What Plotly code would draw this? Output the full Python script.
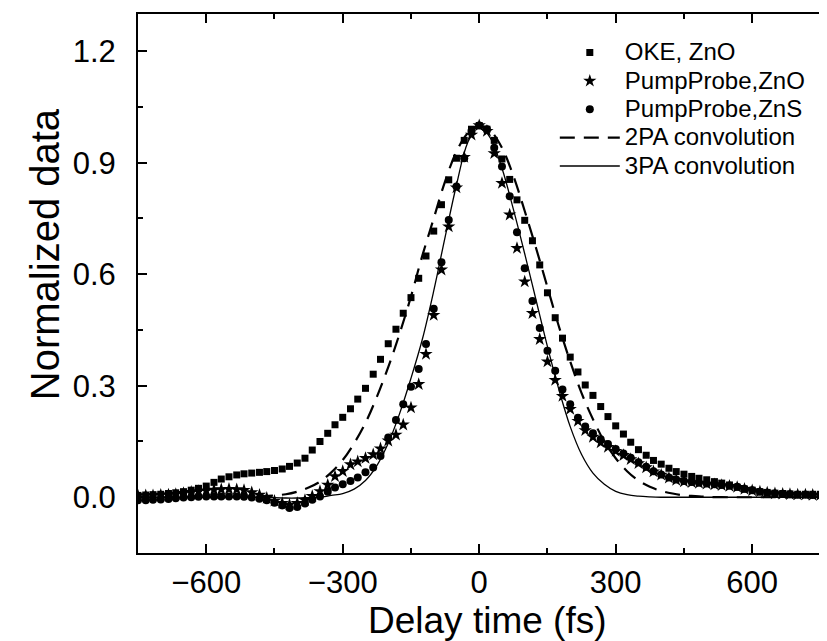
import plotly.graph_objects as go

# shared delay grid of the measured points (fs)
delay_fs = [-750, -733, -717, -700, -683, -667, -650, -633, -617, -600, -583, -567, -550, -533, -517,
            -500, -483, -467, -450, -433, -417, -400, -383, -367, -350, -333, -317, -300, -283, -267,
            -250, -233, -217, -200, -183, -167, -150, -133, -117, -100, -83, -67, -50, -33, -17,
            0, 17, 33, 50, 67, 83, 100, 117, 133, 150, 167, 183, 200, 217, 233,
            250, 267, 283, 300, 317, 333, 350, 367, 383, 400, 417, 433, 450, 467, 483,
            500, 517, 533, 550, 567, 583, 600, 617, 633, 650, 667, 683, 700, 717, 733,
            750, 767, 783]

oke_zno = [0.005, 0.006, 0.007, 0.008, 0.010, 0.012, 0.015, 0.019, 0.024, 0.030, 0.040, 0.049, 0.055, 0.060, 0.063,
           0.065, 0.067, 0.069, 0.072, 0.076, 0.083, 0.092, 0.105, 0.127, 0.150, 0.172, 0.195, 0.215, 0.238, 0.264,
           0.293, 0.331, 0.371, 0.413, 0.452, 0.495, 0.537, 0.589, 0.649, 0.716, 0.787, 0.854, 0.912, 0.960, 0.990,
           1.000, 0.990, 0.960, 0.910, 0.855, 0.800, 0.745, 0.690, 0.625, 0.550, 0.483, 0.428, 0.377, 0.337, 0.302,
           0.274, 0.244, 0.217, 0.192, 0.170, 0.148, 0.128, 0.113, 0.099, 0.089, 0.078, 0.069, 0.062, 0.056, 0.051,
           0.047, 0.042, 0.038, 0.033, 0.027, 0.022, 0.019, 0.015, 0.013, 0.011, 0.010, 0.009, 0.008, 0.008, 0.008,
           0.008, 0.008, 0.008]

pp_zno = [0.004, 0.005, 0.005, 0.006, 0.007, 0.008, 0.011, 0.014, 0.016, 0.018, 0.020, 0.021, 0.022, 0.021, 0.019,
          0.013, 0.006, -0.002, -0.010, -0.016, -0.020, -0.016, -0.008, 0.003, 0.016, 0.033, 0.056, 0.070, 0.088, 0.096,
          0.105, 0.115, 0.131, 0.152, 0.168, 0.195, 0.241, 0.304, 0.385, 0.490, 0.612, 0.728, 0.833, 0.915, 0.975,
          1.000, 0.985, 0.925, 0.845, 0.760, 0.670, 0.580, 0.495, 0.425, 0.365, 0.315, 0.272, 0.237, 0.205, 0.180,
          0.162, 0.147, 0.135, 0.124, 0.113, 0.102, 0.091, 0.080, 0.069, 0.060, 0.052, 0.046, 0.042, 0.040, 0.038,
          0.036, 0.034, 0.032, 0.030, 0.027, 0.022, 0.018, 0.015, 0.012, 0.010, 0.009, 0.008, 0.007, 0.007, 0.006,
          0.006, 0.006, 0.006]

pp_zns = [-0.008, -0.008, -0.007, -0.006, -0.005, -0.003, -0.001, 0.000, 0.001, 0.002, 0.002, 0.002, 0.002, 0.002, 0.001,
          -0.001, -0.004, -0.008, -0.015, -0.022, -0.029, -0.026, -0.017, -0.007, 0.002, 0.015, 0.026, 0.035, 0.044, 0.053,
          0.067, 0.080, 0.111, 0.161, 0.208, 0.250, 0.297, 0.345, 0.412, 0.507, 0.632, 0.746, 0.836, 0.912, 0.985,
          1.000, 0.990, 0.940, 0.890, 0.810, 0.713, 0.616, 0.528, 0.455, 0.394, 0.340, 0.290, 0.250, 0.214, 0.190,
          0.172, 0.156, 0.143, 0.130, 0.118, 0.106, 0.094, 0.082, 0.070, 0.061, 0.053, 0.048, 0.044, 0.041, 0.039,
          0.037, 0.035, 0.033, 0.031, 0.028, 0.023, 0.019, 0.015, 0.012, 0.010, 0.009, 0.008, 0.007, 0.007, 0.006,
          0.006, 0.006, 0.006]

# convolution curves
conv_delay_fs = [-750, -700, -650, -600, -550, -500, -475, -450, -425, -400, -375, -350, -325, -300, -275,
                 -250, -225, -200, -175, -150, -125, -100, -75, -50, -25, 0, 25, 50, 75, 100,
                 125, 150, 175, 200, 225, 250, 275, 300, 325, 350, 375, 400, 425, 450, 475,
                 500, 550, 600, 650, 700, 750, 800]

conv_2pa = [0.0, 0.0, 0.0, 0.0, 0.0, 0.002, 0.003, 0.005, 0.008, 0.015, 0.026, 0.042, 0.067, 0.100, 0.145,
            0.200, 0.270, 0.350, 0.440, 0.540, 0.650, 0.750, 0.850, 0.930, 0.980, 1.000, 0.985, 0.940, 0.865, 0.770,
            0.670, 0.565, 0.460, 0.365, 0.280, 0.210, 0.150, 0.105, 0.070, 0.045, 0.028, 0.017, 0.010, 0.005, 0.003,
            0.001, 0.0, 0.0, 0.0, 0.0, 0.0, 0.0]

conv_3pa = [0.0, 0.0, 0.0, 0.0, 0.0, 0.0, -0.001, -0.001, -0.002, -0.002, -0.001, 0.0, 0.005, 0.010, 0.022,
            0.045, 0.085, 0.145, 0.225, 0.320, 0.425, 0.555, 0.700, 0.840, 0.955, 1.000, 0.965, 0.885, 0.775, 0.655,
            0.530, 0.405, 0.290, 0.190, 0.115, 0.065, 0.035, 0.016, 0.007, 0.003, 0.001, 0.0, 0.0, 0.0, 0.0,
            0.0, 0.0, 0.0, 0.0, 0.0, 0.0, 0.0]

x_ticks = [-600, -300, 0, 300, 600]
y_ticks = [0.0, 0.3, 0.6, 0.9, 1.2]

series_names = ["OKE, ZnO", "PumpProbe,ZnO", "PumpProbe,ZnS", "2PA convolution", "3PA convolution"]
x_title = "Delay time (fs)"
y_title = "Normalized data"

FONT = "Liberation Sans, Arial, sans-serif"


def legend_name(s):
    return '<span style="font-size:24px">' + s + '</span>'


fig = go.Figure()
fig.add_trace(go.Scatter(x=delay_fs, y=oke_zno, mode="markers", name=legend_name(series_names[0]),
                         marker=dict(symbol="square", size=7, color="black")))
fig.add_trace(go.Scatter(x=delay_fs, y=pp_zno, mode="markers", name=legend_name(series_names[1]),
                         marker=dict(symbol="star", size=10, color="black")))
fig.add_trace(go.Scatter(x=delay_fs, y=pp_zns, mode="markers", name=legend_name(series_names[2]),
                         marker=dict(symbol="circle", size=8, color="black")))
fig.add_trace(go.Scatter(x=conv_delay_fs, y=conv_2pa, mode="lines", name=legend_name(series_names[3]),
                         line=dict(color="black", width=2.2, dash="15px,9px", shape="spline")))
fig.add_trace(go.Scatter(x=conv_delay_fs, y=conv_3pa, mode="lines", name=legend_name(series_names[4]),
                         line=dict(color="black", width=1.3, shape="spline")))

axis_common = dict(showline=True, linecolor="black", linewidth=2, ticks="inside",
                   tickcolor="black", tickwidth=1.5, showgrid=False, zeroline=False,
                   tickfont=dict(family=FONT, size=31, color="black"))

fig.update_xaxes(range=[-750, 782], tickvals=x_ticks, ticklen=9, mirror="ticks", ticklabelstandoff=1,
                 minor=dict(dtick=150, ticks="inside", ticklen=5, tickwidth=1.5, tickcolor="black"),
                 **axis_common)
fig.update_yaxes(range=[-0.15, 1.3], tickvals=y_ticks, tickformat=".1f", ticklen=9, ticklabelstandoff=14,
                 minor=dict(dtick=0.15, tick0=0, ticks="inside", ticklen=5, tickwidth=1.5, tickcolor="black"),
                 **axis_common)

fig.add_annotation(text=x_title, xref="paper", yref="paper", x=0.5, y=-0.126,
                   xanchor="center", yanchor="middle", showarrow=False,
                   font=dict(family=FONT, size=37, color="black"))
fig.add_annotation(text=y_title, xref="paper", yref="paper", x=-0.133, y=0.555,
                   xanchor="center", yanchor="middle", textangle=-90, showarrow=False,
                   font=dict(family=FONT, size=40, color="black"))

fig.update_layout(
    width=827, height=641,
    margin=dict(l=130, r=0, t=6, b=96),
    paper_bgcolor="white", plot_bgcolor="white",
    showlegend=True,
    legend=dict(x=0.598, y=0.964, xanchor="left", yanchor="top",
                font=dict(family=FONT, size=19.5, color="black"),
                bgcolor="rgba(0,0,0,0)", itemwidth=60, tracegroupgap=0),
)

fig.write_html("out.html")
